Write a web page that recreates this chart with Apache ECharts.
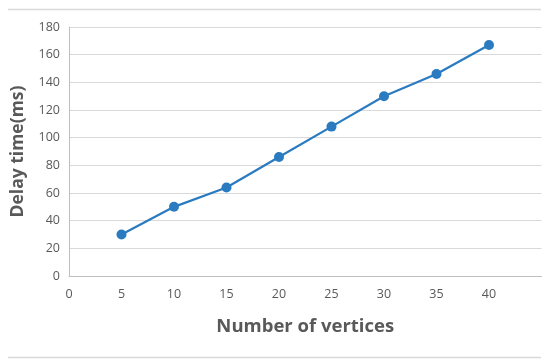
<!DOCTYPE html>
<html>
<head>
<meta charset="utf-8">
<script src="https://cdn.jsdelivr.net/npm/echarts@6/dist/echarts.min.js"></script>
<style>html,body{margin:0;padding:0;background:#fff}#c{width:550px;height:364px}</style>
</head>
<body>
<div id="c"></div>
<script>
const vertices = [5, 10, 15, 20, 25, 30, 35, 40];
const delayMs = [30, 50, 64, 86, 108, 130, 146, 167];
const xTitle = 'Number of vertices';
const yTitle = 'Delay time(ms)';

const chart = echarts.init(document.getElementById('c'));
const font = '"Open Sans", Calibri, sans-serif';
chart.setOption({
  animation: false,
  grid: {left: 69, right: 8.5, top: 27, bottom: 88, containLabel: false},
  graphic: [
    {type: 'line', shape: {x1: 8, y1: 9.5, x2: 541, y2: 9.5}, style: {stroke: '#d9d9d9', lineWidth: 1.5}},
    {type: 'line', shape: {x1: 8, y1: 357.5, x2: 541, y2: 357.5}, style: {stroke: '#d9d9d9', lineWidth: 1.5}}
  ],
  xAxis: {
    type: 'value', min: 0, max: 45, interval: 5,
    name: xTitle, nameLocation: 'middle', nameGap: 41,
    nameTextStyle: {fontFamily: font, fontWeight: 'bold', fontSize: 18.5, color: '#595959'},
    axisLine: {show: true, lineStyle: {color: '#bfbfbf', width: 1}},
    axisTick: {show: false},
    splitLine: {show: false},
    axisLabel: {fontFamily: font, fontSize: 12.5, color: '#595959', margin: 12,
      formatter: v => (v === 45 ? '' : String(v))}
  },
  yAxis: {
    type: 'value', min: 0, max: 180, interval: 20,
    name: yTitle, nameLocation: 'middle', nameGap: 42, nameRotate: 90,
    nameTextStyle: {fontFamily: font, fontWeight: 'bold', fontSize: 17.5, color: '#595959'},
    axisLine: {show: true, lineStyle: {color: '#bfbfbf', width: 1}},
    axisTick: {show: false},
    splitLine: {show: true, lineStyle: {color: '#d9d9d9', width: 1}},
    axisLabel: {fontFamily: font, fontSize: 12.5, color: '#595959', margin: 9}
  },
  series: [{
    type: 'line',
    data: vertices.map((v, i) => [v, delayMs[i]]),
    symbol: 'circle', symbolSize: 10,
    lineStyle: {color: '#2a7bc0', width: 2.25},
    itemStyle: {color: '#2a7bc0'}
  }]
});
</script>
</body>
</html>
